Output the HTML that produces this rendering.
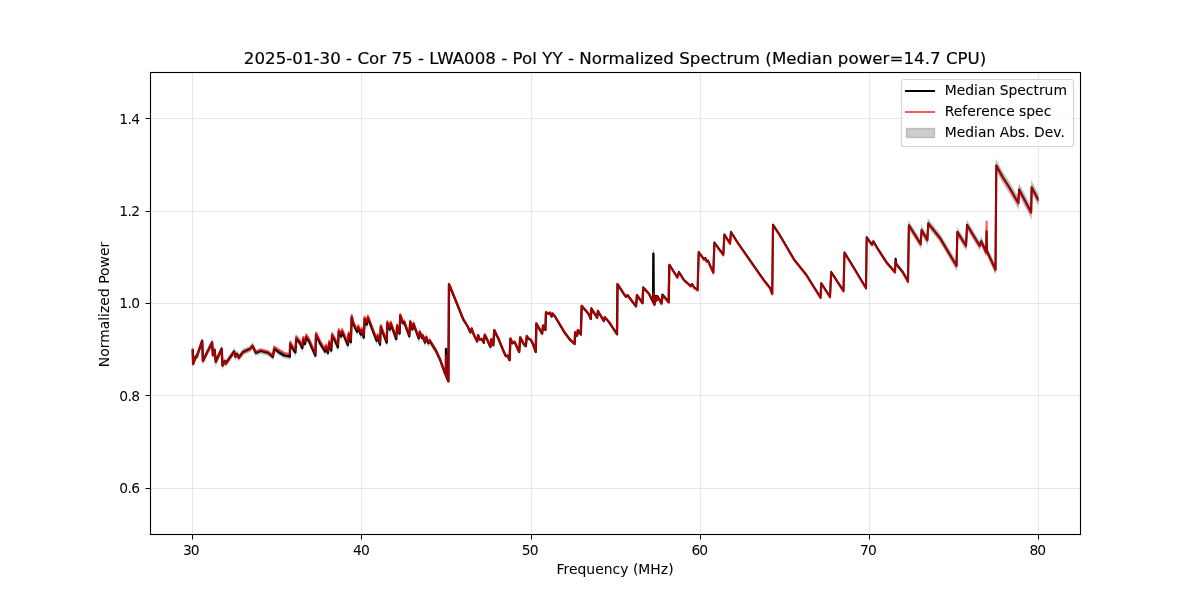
<!DOCTYPE html>
<html lang="en"><head><meta charset="utf-8"><title>Normalized Spectrum</title>
<style>
html,body{margin:0;padding:0;background:#fff;}
body{width:1200px;height:600px;overflow:hidden;font-family:"DejaVu Sans","Liberation Sans",sans-serif;}
svg{display:block;}
svg text{fill:#000;}
</style></head><body>
<svg width="1200" height="600" viewBox="0 0 1200 600">
<rect x="0" y="0" width="1200" height="600" fill="#ffffff"/>
<path d="M192.70 346.80 L193.10 361.40 L195.60 354.20 L196.60 354.60 L202.20 338.41 L202.90 358.41 L212.10 339.91 L212.90 352.61 L214.60 347.41 L215.80 359.31 L221.70 346.31 L222.50 363.01 L225.00 358.71 L225.80 361.05 L234.20 349.02 L235.40 354.12 L237.10 351.42 L238.75 355.22 L243.30 349.32 L250.00 346.43 L252.50 343.35 L255.80 350.36 L260.80 348.41 L268.30 350.49 L272.90 354.33 L274.20 346.36 L279.20 349.92 L284.20 352.91 L288.30 353.65 L289.80 354.10 L290.20 341.59 L292.50 345.69 L295.40 349.88 L296.25 336.13 L300.00 340.67 L302.30 345.66 L303.30 336.56 L305.00 341.56 L306.25 334.45 L309.20 339.05 L315.40 353.13 L316.00 332.33 L320.00 340.62 L322.50 344.81 L325.00 349.01 L325.80 344.40 L327.90 350.60 L329.20 340.59 L331.25 348.09 L332.10 333.09 L335.00 338.08 L337.90 344.77 L338.75 328.97 L341.25 333.96 L342.10 328.96 L347.90 342.65 L348.75 331.84 L350.80 339.74 L351.70 314.74 L353.30 321.43 L357.10 329.32 L358.30 325.12 L360.80 332.21 L361.70 327.61 L363.75 335.11 L364.60 316.40 L366.70 322.20 L367.90 315.50 L376.70 338.33 L377.70 333.80 L380.00 342.04 L380.80 324.52 L386.70 340.15 L387.30 320.59 L389.80 327.17 L390.70 320.94 L396.25 336.59 L397.10 323.67 L399.60 331.10 L400.25 313.18 L402.90 320.62 L404.20 319.68 L409.30 333.76 L410.20 319.54 L412.50 326.98 L413.50 321.56 L418.75 336.03 L419.75 329.75 L422.10 335.54 L422.90 333.42 L425.00 340.07 L426.25 335.04 L428.30 340.79 L429.60 338.26 L435.80 348.41 L440.00 357.53 L445.00 371.73 L445.80 373.43 L446.00 347.44 L446.30 374.96 L448.40 379.88 L449.00 282.90 L456.00 300.80 L463.30 319.00 L465.00 321.50 L468.30 327.30 L470.40 331.90 L471.70 328.10 L473.30 333.10 L477.10 341.05 L478.20 334.80 L479.60 339.00 L481.70 338.55 L483.75 342.30 L484.80 334.40 L487.50 339.80 L490.40 346.50 L491.25 339.00 L493.30 344.80 L494.30 329.80 L498.30 338.10 L504.20 352.30 L505.80 355.60 L507.50 355.20 L509.60 359.80 L510.40 338.10 L512.50 342.70 L514.60 341.50 L519.20 351.50 L520.20 336.90 L524.20 344.40 L525.80 345.60 L526.80 335.60 L528.30 338.10 L530.40 339.00 L532.50 342.30 L535.70 351.50 L536.40 323.10 L542.10 333.10 L543.10 325.20 L545.40 329.40 L546.00 311.90 L549.20 313.55 L550.00 312.30 L551.70 316.05 L552.50 313.10 L555.00 316.05 L564.20 331.50 L570.40 339.80 L574.60 343.55 L575.20 331.90 L577.10 335.20 L577.90 329.80 L580.80 334.00 L581.70 305.60 L588.30 313.10 L590.80 318.55 L591.40 308.10 L597.10 317.30 L597.90 310.60 L603.75 320.60 L604.75 316.90 L609.20 321.90 L617.00 333.80 L617.50 283.80 L624.00 293.80 L626.00 296.30 L627.50 294.80 L636.00 305.80 L637.00 294.80 L642.50 302.68 L643.20 287.15 L649.00 293.37 L653.10 301.47 L653.40 249.42 L653.70 302.67 L654.50 304.10 L656.00 295.53 L656.50 300.00 L657.50 295.95 L661.50 302.83 L662.50 294.32 L668.70 301.50 L669.30 264.10 L677.30 276.78 L678.90 271.47 L684.00 279.45 L690.70 285.43 L692.00 283.43 L694.00 286.72 L697.60 289.41 L698.70 251.40 L704.00 258.70 L705.30 257.40 L706.70 260.70 L708.00 260.00 L713.30 271.99 L714.40 241.99 L723.30 253.99 L724.40 233.99 L730.00 242.68 L731.00 231.38 L737.30 241.38 L750.70 260.67 L757.00 269.67 L764.00 279.66 L770.00 287.16 L772.25 293.16 L773.00 224.16 L779.00 233.15 L794.00 258.64 L806.00 273.64 L820.50 296.88 L821.30 282.63 L830.00 296.12 L831.20 271.37 L843.50 290.11 L844.50 251.86 L851.00 262.36 L866.00 287.30 L866.70 236.39 L872.00 243.58 L873.30 240.27 L877.30 246.95 L886.70 261.50 L895.00 270.86 L895.60 257.56 L896.30 262.85 L902.70 270.82 L908.00 279.05 L908.90 222.11 L920.70 240.66 L921.60 226.66 L927.30 236.64 L928.30 219.93 L940.00 234.59 L956.50 262.33 L957.40 228.63 L966.00 242.20 L967.10 221.60 L979.70 242.15 L981.20 237.75 L986.20 248.73 L986.60 227.73 L987.00 247.73 L995.50 265.75 L996.30 161.35 L1002.50 172.15 L1009.50 183.08 L1018.30 198.20 L1019.10 184.74 L1031.10 207.38 L1031.70 182.28 L1038.10 194.52 L1038.10 204.48 L1031.70 192.12 L1031.10 217.22 L1019.10 194.36 L1018.30 207.80 L1009.50 192.52 L1002.50 181.45 L996.30 169.85 L995.50 273.45 L987.00 254.87 L986.60 234.87 L986.20 255.87 L981.20 244.85 L979.70 249.25 L967.10 228.60 L966.00 249.20 L957.40 235.57 L956.50 269.27 L940.00 241.41 L928.30 226.67 L927.30 243.36 L921.60 233.34 L920.70 247.34 L908.90 228.49 L908.00 283.55 L902.70 273.18 L896.30 265.15 L895.60 259.84 L895.00 273.14 L886.70 263.70 L877.30 249.05 L873.30 242.33 L872.00 245.63 L866.70 238.21 L866.00 288.70 L851.00 263.74 L844.50 253.24 L843.50 291.49 L831.20 272.73 L830.00 297.48 L821.30 283.97 L820.50 298.22 L806.00 274.96 L794.00 259.96 L779.00 234.45 L773.00 225.44 L772.25 294.44 L770.00 288.44 L764.00 280.94 L757.00 270.93 L750.70 261.93 L737.30 242.62 L731.00 232.62 L730.00 243.92 L724.40 235.21 L723.30 255.21 L714.40 243.21 L713.30 273.21 L708.00 261.20 L706.70 261.90 L705.30 258.60 L704.00 259.90 L698.70 252.60 L697.60 290.59 L694.00 287.88 L692.00 284.57 L690.70 286.57 L684.00 280.55 L678.90 272.53 L677.30 277.82 L669.30 265.10 L668.70 302.50 L662.50 295.28 L661.50 303.77 L657.50 296.87 L656.50 300.91 L656.00 296.43 L654.50 305.00 L653.70 303.56 L653.40 257.81 L653.10 302.36 L649.00 294.23 L643.20 287.97 L642.50 303.50 L637.00 295.60 L636.00 306.60 L627.50 295.61 L626.00 297.11 L624.00 294.62 L617.50 284.62 L617.00 334.62 L609.20 322.73 L604.75 317.74 L603.75 321.44 L597.90 311.44 L597.10 318.15 L591.40 308.95 L590.80 319.40 L588.30 313.95 L581.70 306.46 L580.80 334.86 L577.90 330.67 L577.10 336.07 L575.20 332.77 L574.60 344.42 L570.40 340.67 L564.20 332.38 L555.00 316.94 L552.50 313.99 L551.70 316.94 L550.00 313.19 L549.20 314.45 L546.00 312.80 L545.40 330.30 L543.10 326.10 L542.10 334.00 L536.40 324.01 L535.70 352.41 L532.50 343.21 L530.40 339.92 L528.30 339.02 L526.80 336.52 L525.80 346.52 L524.20 345.32 L520.20 337.83 L519.20 352.43 L514.60 342.43 L512.50 343.63 L510.40 339.04 L509.60 360.74 L507.50 356.14 L505.80 356.54 L504.20 353.24 L498.30 339.05 L494.30 330.75 L493.30 345.75 L491.25 339.96 L490.40 347.46 L487.50 340.76 L484.80 335.36 L483.75 343.26 L481.70 339.52 L479.60 339.97 L478.20 335.77 L477.10 342.02 L473.30 334.08 L471.70 329.08 L470.40 332.88 L468.30 328.28 L465.00 322.48 L463.30 319.99 L456.00 301.79 L449.00 285.70 L448.40 382.74 L446.30 378.04 L446.00 350.56 L445.80 376.57 L445.00 374.95 L440.00 361.27 L435.80 352.60 L429.60 343.06 L428.30 345.59 L426.25 339.85 L425.00 344.88 L422.90 338.23 L422.10 340.35 L419.75 334.56 L418.75 340.84 L413.50 326.37 L412.50 331.79 L410.20 324.35 L409.30 338.58 L404.20 324.51 L402.90 325.44 L400.25 318.01 L399.60 335.92 L397.10 328.49 L396.25 341.42 L390.70 325.78 L389.80 332.00 L387.30 325.42 L386.70 344.99 L380.80 329.36 L380.00 346.88 L377.70 338.65 L376.70 343.17 L367.90 320.35 L366.70 327.05 L364.60 321.26 L363.75 339.96 L361.70 332.47 L360.80 337.07 L358.30 329.98 L357.10 334.18 L353.30 326.30 L351.70 319.60 L350.80 344.61 L348.75 336.71 L347.90 347.52 L342.10 333.83 L341.25 338.84 L338.75 333.85 L337.90 349.65 L335.00 342.96 L332.10 337.97 L331.25 352.97 L329.20 345.48 L327.90 355.48 L325.80 349.29 L325.00 353.89 L322.50 349.70 L320.00 345.51 L316.00 337.22 L315.40 358.03 L309.20 343.95 L306.25 339.36 L305.00 346.46 L303.30 341.47 L302.30 350.57 L300.00 345.58 L296.25 341.04 L295.40 354.79 L292.50 350.60 L290.20 346.51 L289.80 359.01 L288.30 358.57 L284.20 357.83 L279.20 354.85 L274.20 351.28 L272.90 359.26 L268.30 355.42 L260.80 353.35 L255.80 355.30 L252.50 348.30 L250.00 351.38 L243.30 354.28 L238.75 360.18 L237.10 356.38 L235.40 359.08 L234.20 353.98 L225.80 366.03 L225.00 363.69 L222.50 367.99 L221.70 351.29 L215.80 364.29 L214.60 352.39 L212.90 357.59 L212.10 344.89 L202.90 363.39 L202.20 343.39 L196.60 359.60 L195.60 359.20 L193.10 366.40 L192.70 351.80 Z" fill="#808080" fill-opacity="0.4" stroke="#808080" stroke-opacity="0.4" stroke-width="1.39" stroke-linejoin="miter"/>
<path d="M192.5 72.5 V534.5 M361.5 72.5 V534.5 M531.5 72.5 V534.5 M700.5 72.5 V534.5 M869.5 72.5 V534.5 M1038.5 72.5 V534.5 M150.5 118.5 H1080.5 M150.5 211.5 H1080.5 M150.5 303.5 H1080.5 M150.5 395.5 H1080.5 M150.5 488.5 H1080.5" fill="none" stroke="#b0b0b0" stroke-opacity="0.3" stroke-width="1.11"/>
<path d="M192.5 534.5 V539.5 M361.5 534.5 V539.5 M531.5 534.5 V539.5 M700.5 534.5 V539.5 M869.5 534.5 V539.5 M1038.5 534.5 V539.5 M150.5 118.5 H145.5 M150.5 211.5 H145.5 M150.5 303.5 H145.5 M150.5 395.5 H145.5 M150.5 488.5 H145.5" fill="none" stroke="#000000" stroke-width="1"/>
<path d="M192.70 349.30 L193.10 363.90 L195.60 356.70 L196.60 357.10 L202.20 340.90 L202.90 360.90 L212.10 342.40 L212.90 355.10 L214.60 349.90 L215.80 361.80 L221.70 348.80 L222.50 365.50 L225.00 361.20 L225.80 363.54 L234.20 351.50 L235.40 356.60 L237.10 353.90 L238.75 357.70 L243.30 351.80 L250.00 348.90 L252.50 345.82 L255.80 352.83 L260.80 350.88 L268.30 352.95 L272.90 356.80 L274.20 348.82 L279.20 352.39 L284.20 355.37 L288.30 356.11 L289.80 356.55 L290.20 344.05 L292.50 348.15 L295.40 352.34 L296.25 338.59 L300.00 343.12 L302.30 348.12 L303.30 339.01 L305.00 344.01 L306.25 336.91 L309.20 341.50 L315.40 355.58 L316.00 334.78 L320.00 343.06 L322.50 347.26 L325.00 351.45 L325.80 346.85 L327.90 353.04 L329.20 343.04 L331.25 350.53 L332.10 335.53 L335.00 340.52 L337.90 347.21 L338.75 331.41 L341.25 336.40 L342.10 331.40 L347.90 345.08 L348.75 334.28 L350.80 342.17 L351.70 317.17 L353.30 323.86 L357.10 331.75 L358.30 327.55 L360.80 334.64 L361.70 330.04 L363.75 337.53 L364.60 318.83 L366.70 324.62 L367.90 317.92 L376.70 340.75 L377.70 336.22 L380.00 344.46 L380.80 326.94 L386.70 342.57 L387.30 323.01 L389.80 329.59 L390.70 323.36 L396.25 339.00 L397.10 326.08 L399.60 333.51 L400.25 315.59 L402.90 323.03 L404.20 322.10 L409.30 336.17 L410.20 321.94 L412.50 329.39 L413.50 323.96 L418.75 338.43 L419.75 332.16 L422.10 337.95 L422.90 335.83 L425.00 342.47 L426.25 337.44 L428.30 343.19 L429.60 340.66 L435.80 350.50 L440.00 359.40 L445.00 373.34 L445.80 375.00 L446.00 349.00 L446.30 376.50 L448.40 381.31 L449.00 284.30 L456.00 301.30 L463.30 319.49 L465.00 321.99 L468.30 327.79 L470.40 332.39 L471.70 328.59 L473.30 333.59 L477.10 341.54 L478.20 335.28 L479.60 339.48 L481.70 339.03 L483.75 342.78 L484.80 334.88 L487.50 340.28 L490.40 346.98 L491.25 339.48 L493.30 345.28 L494.30 330.28 L498.30 338.57 L504.20 352.77 L505.80 356.07 L507.50 355.67 L509.60 360.27 L510.40 338.57 L512.50 343.17 L514.60 341.97 L519.20 351.96 L520.20 337.36 L524.20 344.86 L525.80 346.06 L526.80 336.06 L528.30 338.56 L530.40 339.46 L532.50 342.76 L535.70 351.95 L536.40 323.55 L542.10 333.55 L543.10 325.65 L545.40 329.85 L546.00 312.35 L549.20 314.00 L550.00 312.75 L551.70 316.50 L552.50 313.55 L555.00 316.49 L564.20 331.94 L570.40 340.24 L574.60 343.98 L575.20 332.33 L577.10 335.63 L577.90 330.23 L580.80 334.43 L581.70 306.03 L588.30 313.53 L590.80 318.98 L591.40 308.53 L597.10 317.72 L597.90 311.02 L603.75 321.02 L604.75 317.32 L609.20 322.32 L617.00 334.21 L617.50 284.21 L624.00 294.21 L626.00 296.71 L627.50 295.21 L636.00 306.20 L637.00 295.20 L642.50 303.09 L643.20 287.56 L649.00 293.80 L653.10 301.92 L653.40 253.62 L653.70 303.12 L654.50 304.55 L656.00 295.98 L656.50 300.46 L657.50 296.41 L661.50 303.30 L662.50 294.80 L668.70 302.00 L669.30 264.60" fill="none" stroke="#000000" stroke-width="2.35" stroke-linejoin="round" stroke-linecap="butt"/>
<path d="M669.30 264.60 L677.30 277.30 L678.90 272.00 L684.00 280.00 L690.70 286.00 L692.00 284.00 L694.00 287.30 L697.60 290.00 L698.70 252.00 L704.00 259.30 L705.30 258.00 L706.70 261.30 L708.00 260.60 L713.30 272.60 L714.40 242.60 L723.30 254.60 L724.40 234.60 L730.00 243.30 L731.00 232.00 L737.30 242.00 L750.70 261.30 L757.00 270.30 L764.00 280.30 L770.00 287.80 L772.25 293.80 L773.00 224.80 L779.00 233.80 L794.00 259.30 L806.00 274.30 L820.50 297.55 L821.30 283.30 L830.00 296.80 L831.20 272.05 L843.50 290.80 L844.50 252.55 L851.00 263.05 L866.00 288.00 L866.70 237.30 L872.00 244.60 L873.30 241.30 L877.30 248.00 L886.70 262.60 L895.00 272.00 L895.60 258.70 L896.30 264.00 L902.70 272.00 L908.00 281.30 L908.90 225.30 L920.70 244.00 L921.60 230.00 L927.30 240.00 L928.30 223.30 L940.00 238.00 L956.50 265.80 L957.40 232.10 L966.00 245.70 L967.10 225.10 L979.70 245.70 L981.20 241.30 L986.20 252.30 L986.60 231.30 L987.00 251.30 L995.50 269.60 L996.30 165.60 L1002.50 176.80 L1009.50 187.80 L1018.30 203.00 L1019.10 189.55 L1031.10 212.30 L1031.70 187.20 L1038.10 199.50" fill="none" stroke="#000000" stroke-width="2.1" stroke-linejoin="round" stroke-linecap="butt"/>
<path d="M192.70 349.60 L193.10 364.20 L195.60 357.00 L196.60 357.40 L202.20 341.20 L202.90 361.20 L212.10 342.70 L212.90 355.40 L214.60 350.20 L215.80 362.10 L221.70 349.10 L222.50 365.80 L225.00 361.70 L225.80 364.20 L234.20 352.20 L235.40 357.30 L237.10 354.60 L238.75 358.40 L243.30 352.50 L250.00 349.60 L252.50 345.40 L255.80 352.00 L260.80 350.00 L268.30 352.00 L272.90 355.80 L274.20 346.70 L279.20 350.00 L284.20 353.00 L288.30 353.75 L289.80 354.20 L290.20 341.70 L292.50 345.80 L295.40 350.00 L296.25 336.25 L300.00 340.80 L302.30 345.80 L303.30 336.70 L305.00 341.70 L306.25 334.60 L309.20 339.20 L315.40 353.30 L316.00 332.50 L320.00 340.80 L322.50 345.00 L325.00 349.20 L325.80 344.60 L327.90 350.80 L329.20 340.80 L331.25 348.30 L332.10 333.30 L335.00 338.30 L337.90 345.00 L338.75 329.20 L341.25 334.20 L342.10 329.20 L347.90 342.90 L348.75 332.10 L350.80 340.00 L351.70 315.00 L353.30 321.70 L357.10 329.60 L358.30 325.40 L360.80 332.50 L361.70 327.90 L363.75 335.40 L364.60 316.70 L366.70 322.50 L367.90 315.80 L376.70 338.70 L377.70 334.20 L380.00 342.50 L380.80 325.00 L386.70 340.80 L387.30 321.25 L389.80 327.90 L390.70 321.70 L396.25 337.50 L397.10 324.60 L399.60 332.10 L400.25 314.20 L402.90 321.70 L404.20 320.80 L409.30 335.00 L410.20 320.80 L412.50 328.30 L413.50 322.90 L418.75 337.50 L419.75 331.25 L422.10 337.10 L422.90 335.00 L425.00 341.70 L426.25 336.70 L428.30 342.50 L429.60 340.00 L435.80 350.00 L440.00 359.00 L445.00 373.00 L445.80 374.80 L446.00 355.50 L446.30 376.20 L448.40 381.00 L449.00 284.00 L456.00 301.00 L463.30 319.20 L465.00 321.70 L468.30 327.50 L470.40 332.10 L471.70 328.30 L473.30 333.30 L477.10 341.25 L478.20 335.00 L479.60 339.20 L481.70 338.75 L483.75 342.50 L484.80 334.60 L487.50 340.00 L490.40 346.70 L491.25 339.20 L493.30 345.00 L494.30 330.00 L498.30 338.30 L504.20 352.50 L505.80 355.80 L507.50 355.40 L509.60 360.00 L510.40 338.30 L512.50 342.90 L514.60 341.70 L519.20 351.70 L520.20 337.10 L524.20 344.60 L525.80 345.80 L526.80 335.80 L528.30 338.30 L530.40 339.20 L532.50 342.50 L535.70 351.70 L536.40 323.30 L542.10 333.30 L543.10 325.40 L545.40 329.60 L546.00 312.10 L549.20 313.75 L550.00 312.50 L551.70 316.25 L552.50 313.30 L555.00 316.25 L564.20 331.70 L570.40 340.00 L574.60 343.75 L575.20 332.10 L577.10 335.40 L577.90 330.00 L580.80 334.20 L581.70 305.80 L588.30 313.30 L590.80 318.75 L591.40 308.30 L597.10 317.50 L597.90 310.80 L603.75 320.80 L604.75 317.10 L609.20 322.10 L617.00 334.00 L617.50 284.00 L624.00 294.00 L626.00 296.50 L627.50 295.00 L636.00 306.00 L637.00 295.00 L642.50 303.00 L643.20 287.50 L649.00 294.00 L653.00 300.50 L653.40 293.00 L653.80 303.50 L654.50 305.00 L656.00 296.50 L656.50 301.00 L657.50 297.00 L661.50 304.00 L662.50 295.50 L668.70 302.70 L669.30 265.30 L677.30 278.00 L678.90 272.70 L684.00 280.70 L690.70 286.70 L692.00 284.70 L694.00 288.00 L697.60 290.70 L698.70 252.70 L704.00 260.00 L705.30 258.70 L706.70 262.00 L708.00 261.30 L713.30 273.30 L714.40 243.30 L723.30 255.30 L724.40 235.30 L730.00 244.00 L731.00 232.70 L737.30 242.70 L750.70 262.00 L757.00 271.00 L764.00 281.00 L770.00 288.50 L772.25 294.50 L773.00 225.50 L779.00 234.50 L794.00 260.00 L806.00 275.00 L820.50 298.25 L821.30 284.00 L830.00 297.50 L831.20 272.75 L843.50 291.50 L844.50 253.25 L851.00 263.75 L866.00 288.70 L866.70 238.00 L872.00 245.30 L873.30 242.00 L877.30 248.70 L886.70 263.30 L895.00 272.70 L895.60 261.30 L896.30 264.70 L902.70 272.70 L908.00 282.00 L908.90 226.00 L920.70 244.70 L921.60 230.70 L927.30 240.70 L928.30 224.00 L940.00 238.70 L956.50 266.50 L957.40 232.80 L966.00 246.40 L967.10 225.80 L979.70 246.40 L981.20 242.00 L986.20 253.00 L986.60 221.50 L987.00 252.00 L995.50 270.30 L996.30 166.30 L1002.50 177.50 L1009.50 188.50 L1018.30 203.70 L1019.10 190.25 L1031.10 213.00 L1031.70 187.90 L1038.10 200.20" fill="none" stroke="#ff0000" stroke-opacity="0.65" stroke-width="2.083" stroke-linejoin="round" stroke-linecap="square"/>
<rect x="150.5" y="72.5" width="930" height="462" fill="none" stroke="#000000" stroke-width="1.11"/>
<text x="191.30" y="555.2" font-size="13.889" text-anchor="middle" textLength="16.8" font-family="DejaVu Sans, Liberation Sans, sans-serif">30</text>
<text x="361.40" y="555.2" font-size="13.889" text-anchor="middle" textLength="16.8" font-family="DejaVu Sans, Liberation Sans, sans-serif">40</text>
<text x="530.20" y="555.2" font-size="13.889" text-anchor="middle" textLength="16.8" font-family="DejaVu Sans, Liberation Sans, sans-serif">50</text>
<text x="699.80" y="555.2" font-size="13.889" text-anchor="middle" textLength="16.8" font-family="DejaVu Sans, Liberation Sans, sans-serif">60</text>
<text x="868.40" y="555.2" font-size="13.889" text-anchor="middle" textLength="16.8" font-family="DejaVu Sans, Liberation Sans, sans-serif">70</text>
<text x="1037.80" y="555.2" font-size="13.889" text-anchor="middle" textLength="16.8" font-family="DejaVu Sans, Liberation Sans, sans-serif">80</text>
<text x="140.1" y="123.68" font-size="13.889" text-anchor="end" textLength="20.9" font-family="DejaVu Sans, Liberation Sans, sans-serif">1.4</text>
<text x="140.1" y="215.68" font-size="13.889" text-anchor="end" textLength="20.9" font-family="DejaVu Sans, Liberation Sans, sans-serif">1.2</text>
<text x="140.1" y="307.68" font-size="13.889" text-anchor="end" textLength="20.9" font-family="DejaVu Sans, Liberation Sans, sans-serif">1.0</text>
<text x="140.1" y="400.68" font-size="13.889" text-anchor="end" textLength="20.9" font-family="DejaVu Sans, Liberation Sans, sans-serif">0.8</text>
<text x="140.1" y="492.68" font-size="13.889" text-anchor="end" textLength="20.9" font-family="DejaVu Sans, Liberation Sans, sans-serif">0.6</text>
<text x="615" y="574.2" stroke="#000" stroke-width="0.04" font-size="13.889" text-anchor="middle" textLength="117.1" font-family="DejaVu Sans, Liberation Sans, sans-serif">Frequency (MHz)</text>
<text x="108.75" y="304.5" stroke="#000" stroke-width="0.03" font-size="13.889" text-anchor="middle" textLength="125.5" transform="rotate(-90 108.75 304.5)" font-family="DejaVu Sans, Liberation Sans, sans-serif">Normalized Power</text>
<text x="615.05" y="63.67" stroke="#000" stroke-width="0.18" font-size="16.667" text-anchor="middle" textLength="742.5" font-family="DejaVu Sans, Liberation Sans, sans-serif">2025-01-30 - Cor 75 - LWA008 - Pol YY - Normalized Spectrum (Median power=14.7 CPU)</text>
<rect x="901.5" y="79.5" width="172" height="67" rx="2.6" ry="2.6" fill="#ffffff" stroke="#cccccc" stroke-width="1.2" opacity="0.8"/>
<path d="M905 91 H935" stroke="#000000" stroke-width="2" fill="none"/>
<path d="M905 112 H935" stroke="#ff0000" stroke-opacity="0.65" stroke-width="2" fill="none"/>
<rect x="906.5" y="128.5" width="28" height="9" fill="#808080" fill-opacity="0.4" stroke="#808080" stroke-opacity="0.4" stroke-width="1.389"/>
<text x="944.8" y="95.05" stroke="#000" stroke-width="0.07" font-size="13.889" font-family="DejaVu Sans, Liberation Sans, sans-serif">Median Spectrum</text>
<text x="944.8" y="116.44" stroke="#000" stroke-width="0.07" font-size="13.889" font-family="DejaVu Sans, Liberation Sans, sans-serif">Reference spec</text>
<text x="944.8" y="136.83" stroke="#000" stroke-width="0.07" font-size="13.889" font-family="DejaVu Sans, Liberation Sans, sans-serif">Median Abs. Dev.</text>
</svg>
</body></html>
